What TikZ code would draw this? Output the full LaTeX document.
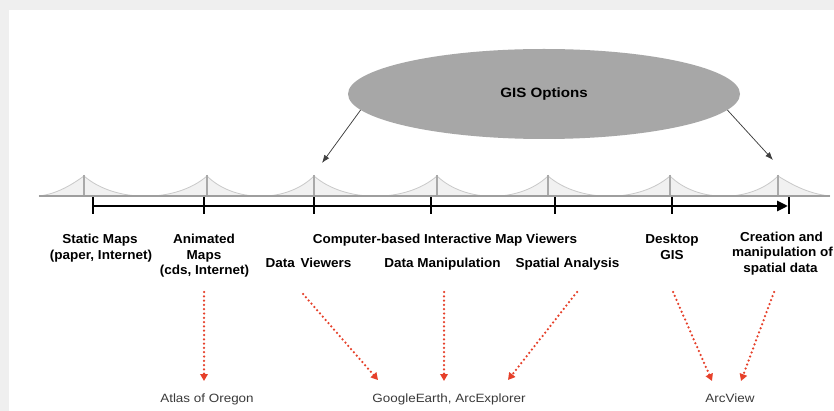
\documentclass[tikz,border=0pt]{standalone}
\usepackage{fontspec}
\setmainfont{Liberation Sans}
\newfontfamily\boldlab[FakeStretch=1.04]{Liberation Sans}
\newfontfamily\toollab[FakeStretch=1.12]{Liberation Sans}
\newfontfamily\gislab[FakeStretch=1.12]{Liberation Sans}
\usetikzlibrary{shapes.geometric,arrows.meta}

\definecolor{panelgray}{HTML}{EFEFEF}
\definecolor{ovalgray}{HTML}{A7A7A7}
\definecolor{cablegray}{HTML}{C9C9C9}
\definecolor{deckfill}{HTML}{F1F1F1}
\definecolor{towergray}{HTML}{A9A9A9}
\definecolor{deckgray}{HTML}{9E9E9E}
\definecolor{dotred}{HTML}{E6402A}
\definecolor{tooltext}{HTML}{3A3A3A}

\begin{document}
\begin{tikzpicture}[x=1pt,y=-1pt,
  lab/.style={font=\boldlab\bfseries\fontsize{13}{15}\selectfont, inner sep=0pt, anchor=base},
  tool/.style={font=\toollab\fontsize{12}{14}\selectfont, text=tooltext, inner sep=0pt, anchor=base},
  pointer/.style={draw=black!75, line width=0.75pt, -{Latex[length=8pt,width=6pt]}},
  reddot/.style={draw=dotred, line width=2.5pt, dash pattern=on 0pt off 4.3pt, line cap=round,
                 -{Triangle[length=7pt,width=7.5pt]}},
  tick/.style={draw=black, line width=2pt},
]
% page frame
\useasboundingbox (0,0) rectangle (834,411);
\fill[panelgray] (0,0) rectangle (834,411);
\fill[white] (9,10) rectangle (834,411);

% suspension bridge silhouette
\path[fill=deckfill, draw=cablegray, line width=0.8pt]
  (39,196) .. controls (56,194) and (70,186) .. (84,176)
  .. controls (115,203) and (176,203) .. (207,176)
  .. controls (234,203) and (287,203) .. (314,176)
  .. controls (345,203) and (406,203) .. (437,176)
  .. controls (465,203) and (520,203) .. (548,176)
  .. controls (579,203) and (639,203) .. (670,176)
  .. controls (697,203) and (751,203) .. (778,176)
  .. controls (794,186) and (810,194) .. (830,196) -- cycle;
\foreach \tx in {84,207,314,437,548,670,778}
  \draw[towergray, line width=1.5pt] (\tx,175) -- (\tx,197);
\draw[deckgray, line width=2.2pt] (39,196) -- (830,196);

% time line
\coordinate (t0) at (93,206);
\coordinate (t1) at (204,206);
\coordinate (t2) at (314,206);
\coordinate (t3) at (431,206);
\coordinate (t4) at (555,206);
\coordinate (t5) at (672,206);
\coordinate (t6) at (789,206);
\draw[black, line width=2.8pt, -{Triangle[length=11pt,width=10pt]}] (t0) -- ([xshift=-1pt]t6);
\foreach \t in {t0,t1,t2,t3,t4,t5,t6}
  \draw[tick] ([yshift=-8pt]\t) -- ([yshift=9pt]\t);

% oval and its pointers
\node[ellipse, fill=ovalgray, minimum width=392pt, minimum height=90pt, inner sep=0pt,
      font=\gislab\bfseries\fontsize{13.5}{15}\selectfont] (gis) at (544,94) {GIS Options};
\coordinate (gisL) at (322,163);
\coordinate (gisR) at (773,160);
\draw[pointer] (gis.185) -- (gisL);
\draw[pointer] (gis.-5) -- (gisR);

% stage labels
\node[lab] (static1) at (100,244) {Static Maps};
\node[lab] (static2) at (101,260) {(paper, Internet)};
\node[lab] (anim1) at (204,244) {Animated};
\node[lab] (anim2) at (204,260) {Maps};
\node[lab] (anim3) at (204.5,275) {(cds, Internet)};
\node[lab] (cbiv) at (445,244) {Computer-based Interactive Map Viewers};
\node[lab] (dview) at (308.5,267.5) {Data\hspace{2pt} Viewers};
\node[lab] (dmanip) at (442.5,267.5) {Data Manipulation};
\node[lab] (spat) at (567.5,267.5) {Spatial Analysis};
\node[lab] (desk1) at (672,244) {Desktop};
\node[lab] (desk2) at (672,260) {GIS};
\node[lab] (creat1) at (781.5,241.5) {Creation and};
\node[lab] (creat2) at (782.5,257) {manipulation of};
\node[lab] (creat3) at (780.5,272.5) {spatial data};

% example tools
\node[tool] (atlas) at (207,402) {Atlas of Oregon};
\node[tool] (google) at (449,402) {GoogleEarth, ArcExplorer};
\node[tool] (arcview) at (730,402) {ArcView};

% dotted links from stages to tools
\coordinate (r1a) at (204,292); \coordinate (r1b) at (204,381);
\coordinate (r2a) at (303,294); \coordinate (r2b) at (378,380);
\coordinate (r3a) at (444,292); \coordinate (r3b) at (444,381);
\coordinate (r4a) at (577,292); \coordinate (r4b) at (508,380);
\coordinate (r5a) at (673,292); \coordinate (r5b) at (712,381);
\coordinate (r6a) at (774,292); \coordinate (r6b) at (741,381);
\foreach \i in {1,...,6}
  \draw[reddot] (r\i a) -- (r\i b);
\end{tikzpicture}
\end{document}
